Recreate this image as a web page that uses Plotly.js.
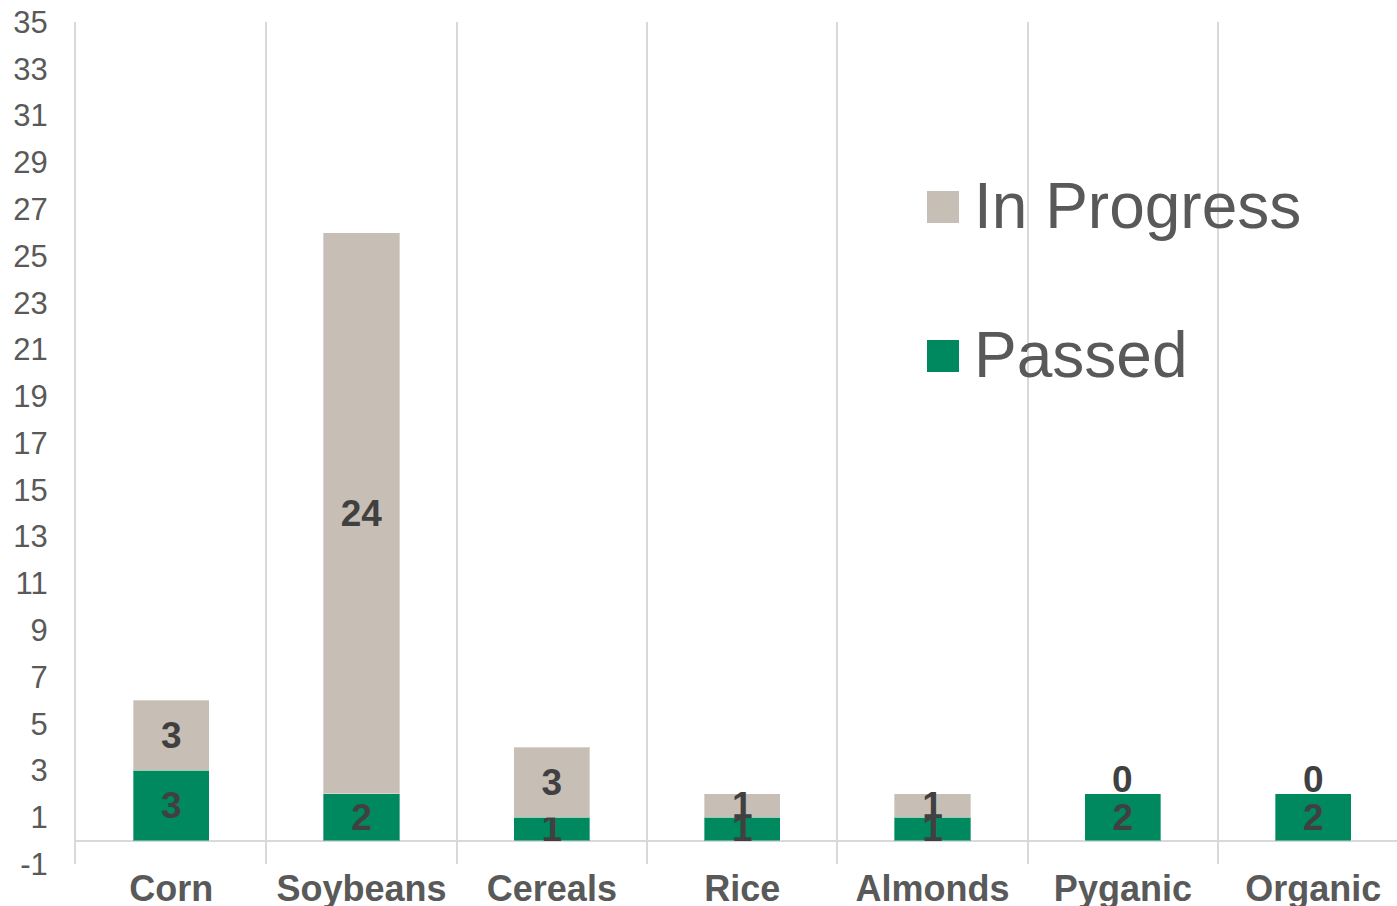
<!DOCTYPE html>
<html>
<head>
<meta charset="utf-8">
<script src="https://cdn.plot.ly/plotly-3.0.1.min.js"></script>
<style>html,body{margin:0;padding:0;background:#fff;}#chart{width:1397px;height:906px;}</style>
</head>
<body>
<div id="chart"></div>
<script>
const categories = ["Corn", "Soybeans", "Cereals", "Rice", "Almonds", "Pyganic", "Organic"];
const passed = [3, 2, 1, 1, 1, 2, 2];
const inProgress = [3, 24, 3, 1, 1, 0, 0];
const seriesNames = ["In Progress", "Passed"];
const yTickVals = [-1, 1, 3, 5, 7, 9, 11, 13, 15, 17, 19, 21, 23, 25, 27, 29, 31, 33, 35];
const yTickText = ["-1", "1", "3", "5", "7", "9", "11", "13", "15", "17", "19", "21", "23", "25", "27", "29", "31", "33", "35"];
const colors = {inProgress: "#C7BEB5", passed: "#00895E"};

const FONT = "Liberation Sans, Arial, sans-serif";
const labelFont = {family: FONT, size: 37, color: "#404040", weight: "bold"};

const tracePassed = {
  type: "bar", x: categories, y: passed, name: seriesNames[1],
  marker: {color: colors.passed, line: {color: "rgba(255,255,255,0.35)", width: 1}},
  width: 0.4,
  text: passed.map(String), textposition: "inside", insidetextanchor: "middle",
  constraintext: "none", textangle: 0, textfont: labelFont, insidetextfont: labelFont,
  showlegend: false, hoverinfo: "skip"
};
const traceInProgress = {
  type: "bar", x: categories, y: inProgress, name: seriesNames[0],
  marker: {color: colors.inProgress, line: {color: "rgba(255,255,255,0.35)", width: 1}},
  width: 0.4,
  text: inProgress.map(v => v === 0 ? "" : String(v)),
  textposition: "inside", insidetextanchor: "middle", constraintext: "none", textangle: 0,
  textfont: labelFont, insidetextfont: labelFont,
  showlegend: false, hoverinfo: "skip"
};

// labels for zero-height "In Progress" segments sit just above the stack
const zeroLabels = [];
categories.forEach((c, i) => {
  if (inProgress[i] === 0) {
    zeroLabels.push({
      xref: "x", yref: "y", x: c, y: passed[i] + inProgress[i],
      xanchor: "center", yanchor: "bottom", yshift: -8, showarrow: false,
      text: String(inProgress[i]), font: labelFont
    });
  }
});

const W = 1397, H = 906, mL = 76, mT = 22, mB = 42, mR = 0;
const pw = W - mL - mR, ph = H - mT - mB;
const px = v => (v - mL) / pw;
const py = v => (H - mB - v) / ph;

const legendItems = [
  {name: seriesNames[0], color: colors.inProgress, cy: 207},
  {name: seriesNames[1], color: colors.passed, cy: 356}
];
const shapes = legendItems.map(it => ({
  type: "rect", xref: "paper", yref: "paper",
  x0: px(927), x1: px(959), y0: py(it.cy + 16), y1: py(it.cy - 16),
  fillcolor: it.color, line: {width: 0}
}));
const legendText = legendItems.map(it => ({
  xref: "paper", yref: "paper", x: px(972), y: py(it.cy - 1),
  xanchor: "left", yanchor: "middle", showarrow: false, text: it.name,
  font: {family: FONT, size: 64, color: "#595959"}
}));

const layout = {
  width: W, height: H,
  margin: {l: mL, r: mR, t: mT, b: mB, pad: 0},
  paper_bgcolor: "#fff", plot_bgcolor: "#fff",
  barmode: "stack", showlegend: false,
  xaxis: {
    type: "category", range: [-0.5, 6.44], tickson: "boundaries",
    showgrid: true, gridcolor: "#d9d9d9", gridwidth: 2,
    ticks: "", showline: false, zeroline: false,
    tickfont: {family: FONT, size: 36, color: "#595959", weight: "bold"},
    ticklabelstandoff: 0, fixedrange: true
  },
  yaxis: {
    range: [-1, 35], tickmode: "array", tickvals: yTickVals, ticktext: yTickText,
    showgrid: false,
    zeroline: true, zerolinecolor: "#d9d9d9", zerolinewidth: 2,
    showline: true, linecolor: "#d9d9d9", linewidth: 2,
    ticks: "", ticklabelstandoff: 20,
    tickfont: {family: FONT, size: 31, color: "#595959"},
    fixedrange: true
  },
  shapes: shapes, annotations: legendText.concat(zeroLabels)
};

Plotly.newPlot("chart", [tracePassed, traceInProgress], layout, {displayModeBar: false, staticPlot: true});
</script>
</body>
</html>
